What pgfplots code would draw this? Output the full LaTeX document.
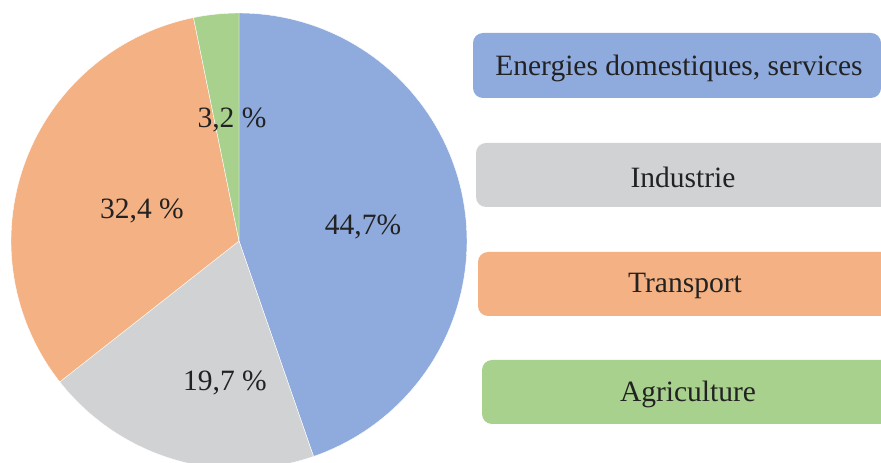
\documentclass[border=0pt]{standalone}
\usepackage{fontspec}
\setmainfont{Liberation Serif}
\usepackage{pgfplots}
\pgfplotsset{compat=1.18}
\definecolor{cBlue}{HTML}{8FAADC}
\definecolor{cGrey}{HTML}{D1D2D4}
\definecolor{cOrange}{HTML}{F4B183}
\definecolor{cGreen}{HTML}{A9D18E}
\definecolor{cText}{HTML}{222222}

% shares in percent, clockwise from the top
\def\pA{44.7}
\def\pB{19.7}
\def\pC{32.4}
\def\pD{3.2}
\pgfmathsetmacro\aA{90}
\pgfmathsetmacro\aB{90-3.6*\pA}
\pgfmathsetmacro\aC{\aB-3.6*\pB}
\pgfmathsetmacro\aD{\aC-3.6*\pC}
\pgfmathsetmacro\aE{\aD-3.6*\pD}

\begin{document}
\begin{tikzpicture}
\begin{axis}[
    at={(0pt,0pt)}, anchor=south west,
    scale only axis,
    width=881pt, height=463pt,
    xmin=0, xmax=881, ymin=0, ymax=463,
    hide axis,
    clip=true,
]
\addplot[fill=cBlue, draw=white, line width=0.4pt, domain=\aA:\aB, samples=90, variable=\t]
    ({239+228*cos(\t)}, {222+228*sin(\t)}) -- (axis cs:239,222) -- cycle;
\addplot[fill=cGrey, draw=white, line width=0.4pt, domain=\aB:\aC, samples=60, variable=\t]
    ({239+228*cos(\t)}, {222+228*sin(\t)}) -- (axis cs:239,222) -- cycle;
\addplot[fill=cOrange, draw=white, line width=0.4pt, domain=\aC:\aD, samples=70, variable=\t]
    ({239+228*cos(\t)}, {222+228*sin(\t)}) -- (axis cs:239,222) -- cycle;
\addplot[fill=cGreen, draw=white, line width=0.4pt, domain=\aD:\aE, samples=10, variable=\t]
    ({239+228*cos(\t)}, {222+228*sin(\t)}) -- (axis cs:239,222) -- cycle;

\begin{scope}[every node/.style={text=cText, font=\fontsize{29.5}{34}\selectfont}]
\node at (axis cs:363,236) {44,7\%};
\node at (axis cs:225,80) {19,7 \%};
\node at (axis cs:142,252) {32,4 \%};
\node at (axis cs:232,343) {3,2 \%};

\fill[cBlue, rounded corners=10pt] (axis cs:473,365) rectangle (axis cs:881,430);
\fill[cGrey, rounded corners=10pt] (axis cs:476,256) rectangle (axis cs:895,320);
\fill[cOrange, rounded corners=10pt] (axis cs:478,147) rectangle (axis cs:895,211);
\fill[cGreen, rounded corners=10pt] (axis cs:482,39) rectangle (axis cs:895,103);

\node at (axis cs:679,395) {Energies domestiques, services};
\node at (axis cs:683,286) {Industrie};
\node at (axis cs:685,177) {Transport};
\node at (axis cs:688,69) {Agriculture};
\end{scope}
\end{axis}
\pgfresetboundingbox
\path[use as bounding box] (0pt,0pt) rectangle (881pt,463pt);
\end{tikzpicture}
\end{document}
